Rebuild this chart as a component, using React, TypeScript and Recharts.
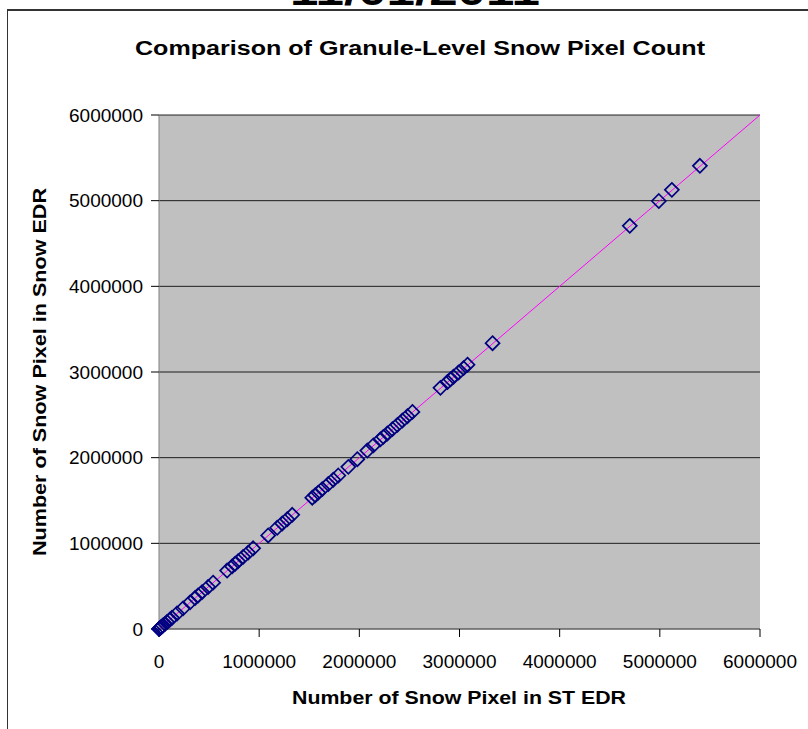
import React from 'react'
import {
  ScatterChart,
  Scatter,
  XAxis,
  YAxis,
  CartesianGrid,
  ReferenceLine,
} from 'recharts'

// granule pixel counts, ST EDR (x) vs Snow EDR (y)
const stEdr = [
  0, 5000, 15000, 25000, 40000, 60000, 80000, 110000, 130000, 180000, 240000,
  310000, 360000, 390000, 430000, 490000, 540000, 680000, 730000, 760000,
  790000, 840000, 890000, 940000, 1090000, 1180000, 1230000, 1280000, 1330000,
  1530000, 1560000, 1590000, 1630000, 1690000, 1740000, 1790000, 1890000,
  1980000, 2080000, 2140000, 2210000, 2240000, 2280000, 2330000, 2380000,
  2430000, 2480000, 2530000, 2810000, 2880000, 2910000, 2940000, 2990000,
  3040000, 3080000, 3330000, 4700000, 4990000, 5120000, 5400000,
]
const snowEdr = [
  0, 5000, 15000, 26000, 41000, 60000, 81000, 110000, 131000, 181000, 241000,
  311000, 361000, 391000, 431000, 491000, 541000, 682000, 731000, 761000,
  792000, 842000, 891000, 942000, 1092000, 1182000, 1232000, 1282000, 1333000,
  1533000, 1562000, 1592000, 1633000, 1692000, 1743000, 1792000, 1893000,
  1982000, 2083000, 2143000, 2213000, 2243000, 2283000, 2333000, 2383000,
  2433000, 2484000, 2534000, 2815000, 2884000, 2914000, 2944000, 2994000,
  3045000, 3085000, 3336000, 4706000, 4996000, 5126000, 5407000,
]
const ticks = [0, 1000000, 2000000, 3000000, 4000000, 5000000, 6000000]
const oneToOne = [0, 6000000]

const points = stEdr.map((x, i) => ({ x, y: snowEdr[i] }))

const font = 'Arial, "Liberation Sans", sans-serif'

const Diamond = (props: any) => {
  const { cx, cy } = props
  const r = 7
  return (
    <polygon
      points={`${cx},${cy - r} ${cx + r},${cy} ${cx},${cy + r} ${cx - r},${cy}`}
      fill="none"
      stroke="#000080"
      strokeWidth={1.7}
    />
  )
}

export default function App() {
  return (
    <div
      style={{
        position: 'absolute',
        left: 0,
        top: 0,
        width: 808,
        height: 729,
        background: '#fff',
        overflow: 'hidden',
        fontFamily: font,
      }}
    >
      <div
        style={{
          position: 'absolute',
          left: 7,
          top: 9,
          width: 900,
          height: 900,
          borderLeft: '1px solid #333',
          borderTop: '2px solid #333',
        }}
      />
      <div style={{ position: 'absolute', left: 0, top: 0 }}>
        <ScatterChart
          width={808}
          height={729}
          margin={{ top: 115, right: 48, bottom: 0, left: 0 }}
        >
          <CartesianGrid
            vertical={false}
            fill="#C0C0C0"
            stroke="#000"
            strokeOpacity={0.85}
          />
          <XAxis
            type="number"
            dataKey="x"
            domain={[0, 6000000]}
            ticks={ticks}
            interval={0}
            height={100}
            tickSize={8}
            tickMargin={18}
            axisLine={{ stroke: '#808080' }}
            tickLine={{ stroke: '#000' }}
            tick={{ fill: '#000', fontSize: 19, fontFamily: font }}
          />
          <YAxis
            type="number"
            dataKey="y"
            domain={[0, 6000000]}
            ticks={ticks}
            interval={0}
            width={159}
            tickSize={8}
            tickMargin={8}
            axisLine={{ stroke: '#808080' }}
            tickLine={{ stroke: '#000' }}
            tick={{ fill: '#000', fontSize: 19, fontFamily: font }}
          />
          <YAxis
            yAxisId="right"
            orientation="right"
            type="number"
            domain={[0, 6000000]}
            width={0}
            tick={false}
            tickLine={false}
            axisLine={{ stroke: '#808080' }}
          />
          <ReferenceLine
            segment={[
              { x: oneToOne[0], y: oneToOne[0] },
              { x: oneToOne[1], y: oneToOne[1] },
            ]}
            stroke="#FF00FF"
            strokeWidth={1}
            ifOverflow="visible"
          />
          <Scatter
            data={points}
            shape={Diamond}
            isAnimationActive={false}
          />
        </ScatterChart>
      </div>
      <svg
        width={808}
        height={729}
        style={{ position: 'absolute', left: 0, top: 0, pointerEvents: 'none' }}
      >
        <text
          x={415}
          y={5}
          textAnchor="middle"
          fontSize={40}
          fontWeight="bold"
          fontFamily={font}
          fill="#000"
          textLength={250}
          lengthAdjust="spacingAndGlyphs"
        >
          11/01/2011
        </text>
        <text
          x={420}
          y={55}
          textAnchor="middle"
          fontSize={20}
          fontWeight="bold"
          fontFamily={font}
          fill="#000"
          textLength={570}
          lengthAdjust="spacingAndGlyphs"
        >
          Comparison of Granule-Level Snow Pixel Count
        </text>
        <text
          x={459}
          y={704}
          textAnchor="middle"
          fontSize={19}
          fontWeight="bold"
          fontFamily={font}
          fill="#000"
          textLength={334}
          lengthAdjust="spacingAndGlyphs"
        >
          Number of Snow Pixel in ST EDR
        </text>
        <text
          x={46}
          y={372}
          textAnchor="middle"
          fontSize={19}
          fontWeight="bold"
          fontFamily={font}
          fill="#000"
          textLength={368}
          lengthAdjust="spacingAndGlyphs"
          transform="rotate(-90 46 372)"
        >
          Number of Snow Pixel in Snow EDR
        </text>
      </svg>
    </div>
  )
}
